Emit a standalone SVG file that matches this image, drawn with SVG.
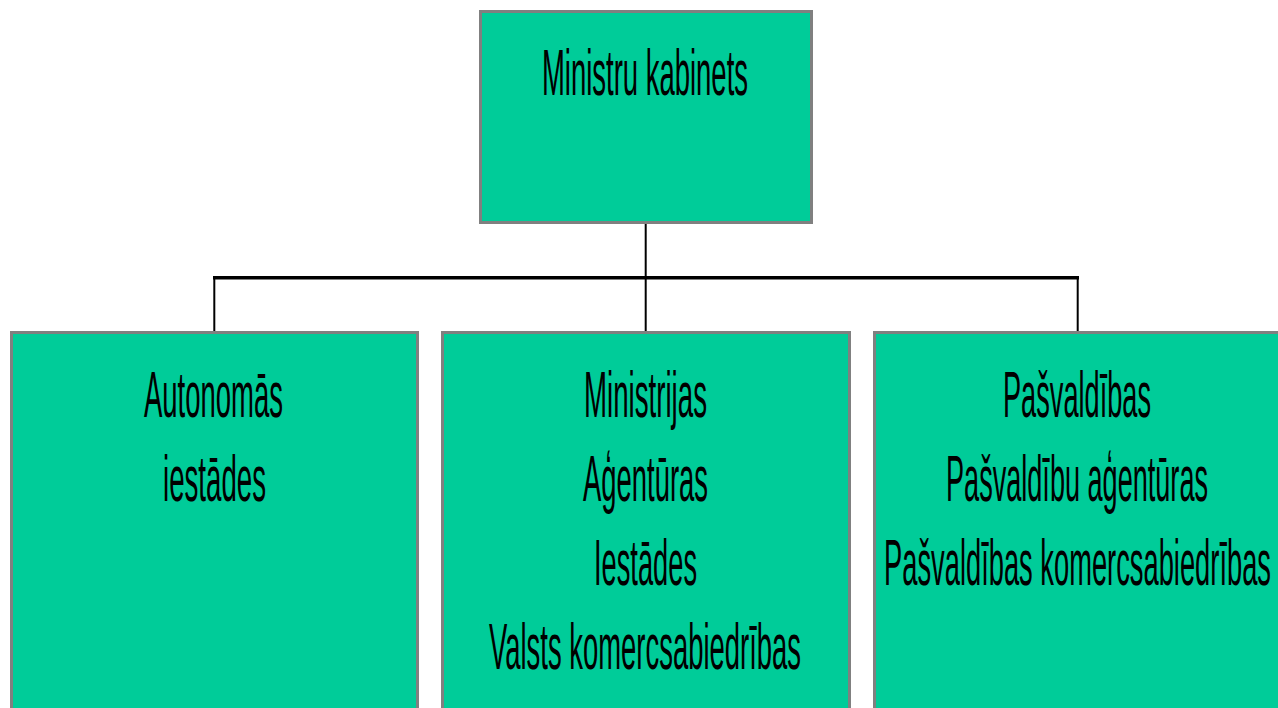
<svg xmlns="http://www.w3.org/2000/svg" width="1278" height="708" viewBox="0 0 1278 708">
<style>
.box{fill:#00CC99;stroke:#808080;stroke-width:3}
.t{font-family:"Liberation Sans",Arial,sans-serif;font-size:65px;fill:#000;text-anchor:middle}
.ln{stroke:#000;fill:none}
</style>
<rect width="1278" height="708" fill="#fff"/>
<g id="connectors">
<line class="ln" x1="645.7" y1="223" x2="645.7" y2="331" stroke-width="2"/>
<line class="ln" x1="213" y1="277.8" x2="1079" y2="277.8" stroke-width="3.5"/>
<line class="ln" x1="214.3" y1="278" x2="214.3" y2="331" stroke-width="2"/>
<line class="ln" x1="1077.7" y1="278" x2="1077.7" y2="331" stroke-width="2"/>
</g>
<g id="ministru-kabinets">
<rect class="box" x="480.5" y="11.5" width="331" height="211"/>
<text class="t" x="645" y="95" textLength="206" lengthAdjust="spacingAndGlyphs">Ministru kabinets</text>
</g>
<g id="autonomas">
<rect class="box" x="11.5" y="332.5" width="406" height="400"/>
<text class="t" x="213.5" y="417" textLength="139" lengthAdjust="spacingAndGlyphs">Autonomās</text>
<text class="t" x="214.5" y="501" textLength="103" lengthAdjust="spacingAndGlyphs">iestādes</text>
</g>
<g id="ministrijas">
<rect class="box" x="442.5" y="332.5" width="407" height="400"/>
<text class="t" x="645.5" y="417" textLength="123" lengthAdjust="spacingAndGlyphs">Ministrijas</text>
<text class="t" x="645.5" y="501" textLength="125" lengthAdjust="spacingAndGlyphs">Aģentūras</text>
<text class="t" x="645.5" y="585" textLength="103" lengthAdjust="spacingAndGlyphs">Iestādes</text>
<text class="t" x="645" y="669" textLength="312" lengthAdjust="spacingAndGlyphs">Valsts komercsabiedrības</text>
</g>
<g id="pasvaldibas">
<rect class="box" x="874.5" y="332.5" width="420" height="400"/>
<text class="t" x="1077" y="417" textLength="148" lengthAdjust="spacingAndGlyphs">Pašvaldības</text>
<text class="t" x="1077" y="501" textLength="262" lengthAdjust="spacingAndGlyphs">Pašvaldību aģentūras</text>
<text class="t" x="1077.5" y="585" textLength="387" lengthAdjust="spacingAndGlyphs">Pašvaldības komercsabiedrības</text>
</g>
</svg>
